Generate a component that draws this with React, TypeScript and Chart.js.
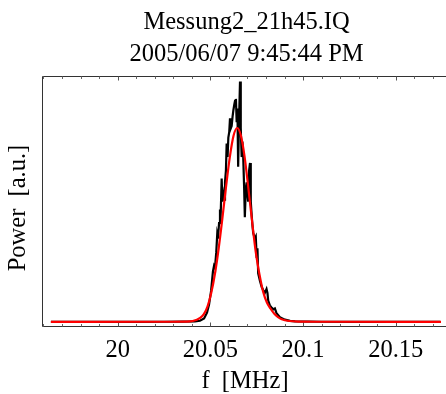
import React, { useEffect, useRef } from "react";
import { Chart, registerables } from "chart.js";

Chart.register(...registerables);

const TITLE_LINES = ["Messung2_21h45.IQ", "2005/06/07 9:45:44 PM"];
const X_LABEL = "f  [MHz]";
const Y_LABEL = "Power  [a.u.]";

const X_MIN = 19.9592;
const X_MAX = 20.1771;
const Y_MIN = -0.026;
const Y_MAX = 1.268;

const MAJOR_TICKS = [20, 20.05, 20.1, 20.15];
const MINOR_TICKS = [
  19.96, 19.97, 19.98, 19.99, 20.0, 20.01, 20.02, 20.03, 20.04, 20.05, 20.06,
  20.07, 20.08, 20.09, 20.1, 20.11, 20.12, 20.13, 20.14, 20.15, 20.16, 20.17,
];

// measured spectrum (black)
const MEASURED_F = [
  19.964, 19.99, 20.01, 20.025, 20.035, 20.0417, 20.0444, 20.0466, 20.0482,
  20.0493, 20.0504, 20.0514, 20.052, 20.0525, 20.0532, 20.0537, 20.0541,
  20.0547, 20.0552, 20.0556, 20.0561, 20.0565, 20.057, 20.0575, 20.0579,
  20.0584, 20.0588, 20.0593, 20.0597, 20.0602, 20.0606, 20.0611, 20.0615,
  20.062, 20.0624, 20.0629, 20.0633, 20.0638, 20.0642, 20.0646, 20.065,
  20.0655, 20.066, 20.0664, 20.0669, 20.0673, 20.0677, 20.0682, 20.0686,
  20.0691, 20.0696, 20.07, 20.0704, 20.0709, 20.0714, 20.0718, 20.0723,
  20.0727, 20.0731, 20.074, 20.0745, 20.075, 20.0754, 20.0758, 20.0768,
  20.0777, 20.0785, 20.0794, 20.0803, 20.0808, 20.0812, 20.0821, 20.083,
  20.084, 20.0848, 20.0857, 20.0866, 20.0875, 20.0902, 20.093, 20.0957,
  20.11, 20.13, 20.15, 20.174,
];
const MEASURED_P = [
  0, 0, 0, 0.001, 0.002, 0.003, 0.006, 0.018, 0.048,
  0.09, 0.16, 0.26, 0.29, 0.28, 0.36, 0.45, 0.43,
  0.51, 0.58, 0.56, 0.74, 0.62, 0.66, 0.63, 0.72,
  0.78, 0.92, 0.85, 0.95, 0.98, 1.05, 1.0, 1.01,
  1.06, 1.09, 1.12, 1.14, 1.15, 1.03, 1.1, 0.8,
  1.05, 1.24, 1.0, 0.85, 0.93, 0.86, 0.7, 0.54,
  0.68, 0.72, 0.66, 0.62, 0.78, 0.82, 0.62, 0.55,
  0.5, 0.46, 0.43, 0.44, 0.33, 0.38, 0.25, 0.21,
  0.18, 0.165, 0.15, 0.17, 0.15, 0.11, 0.085, 0.075,
  0.065, 0.07, 0.045, 0.035, 0.025, 0.012, 0.006, 0.003,
  0.001, 0, 0, 0,
];

// fitted curve (red)
const FIT_F = [
  19.964, 20.0245, 20.0365, 20.0405, 20.0445, 20.0465, 20.0485, 20.0505,
  20.0525, 20.0545, 20.0565, 20.0585, 20.0605, 20.0625, 20.0645, 20.0665,
  20.0685, 20.0705, 20.0725, 20.0745, 20.0765, 20.0785, 20.0805, 20.0825,
  20.0845, 20.0865, 20.0885, 20.0925, 20.0985, 20.1145, 20.1744,
];
const FIT_P = [
  0, 0.001, 0.002, 0.005, 0.021, 0.04, 0.08, 0.15,
  0.25, 0.38, 0.535, 0.7, 0.85, 0.96, 1.0, 0.96,
  0.85, 0.69, 0.52, 0.36, 0.245, 0.155, 0.1, 0.068,
  0.042, 0.025, 0.014, 0.005, 0.002, 0.001, 0,
];

const FONT = '"Liberation Serif", "Times New Roman", serif';
const FONT_SIZE = 24.5;

const framePlugin = {
  id: "mmaFrame",
  beforeDatasetsDraw(chart: any) {
    const { ctx, chartArea, scales } = chart;
    const xs = scales.x;
    const L = Math.round(chartArea.left) + 0.5;
    const T = Math.round(chartArea.top) + 0.5;
    const B = Math.round(chartArea.bottom) - 0.5;
    const R = chartArea.right + 10;
    ctx.save();
    ctx.strokeStyle = "#333";
    ctx.lineWidth = 1;
    ctx.beginPath();
    ctx.moveTo(R, T);
    ctx.lineTo(L, T);
    ctx.lineTo(L, B);
    ctx.lineTo(R, B);
    ctx.stroke();
    for (const v of MINOR_TICKS) {
      const isMajor = MAJOR_TICKS.some((m) => Math.abs(m - v) < 1e-9);
      const len = isMajor ? 4 : 2.5;
      const px = Math.round(xs.getPixelForValue(v)) + 0.5;
      ctx.strokeStyle = isMajor ? "#555" : "#666";
      ctx.beginPath();
      ctx.moveTo(px, B);
      ctx.lineTo(px, B - len);
      ctx.moveTo(px, T);
      ctx.lineTo(px, T + len);
      ctx.stroke();
    }
    ctx.restore();
  },
  afterDraw(chart: any) {
    const { ctx, chartArea } = chart;
    ctx.save();
    ctx.fillStyle = "#000";
    ctx.font = `${FONT_SIZE}px ${FONT}`;
    ctx.textAlign = "center";
    ctx.textBaseline = "alphabetic";
    const cx = chartArea.left + 204.5;
    ctx.fillText(TITLE_LINES[0], cx, 29);
    ctx.fillText(TITLE_LINES[1], cx, 61);
    ctx.fillText(X_LABEL, chartArea.left + 203, 388);
    ctx.translate(25, 208);
    ctx.rotate(-Math.PI / 2);
    ctx.fillText(Y_LABEL, 0, 0);
    ctx.restore();
  },
};

export default function App() {
  const canvasRef = useRef<HTMLCanvasElement | null>(null);

  useEffect(() => {
    const canvas = canvasRef.current;
    if (!canvas) return;
    const chart = new Chart(canvas, {
      type: "line",
      data: {
        datasets: [
          {
            label: "Fit",
            data: FIT_F.map((f, i) => ({ x: f, y: FIT_P[i] })),
            borderColor: "rgb(255,0,0)",
            borderWidth: 2.2,
            pointRadius: 0,
            fill: false,
            cubicInterpolationMode: "monotone",
          },
          {
            label: "Messung",
            data: MEASURED_F.map((f, i) => ({ x: f, y: MEASURED_P[i] })),
            borderColor: "#000",
            borderWidth: 2.2,
            pointRadius: 0,
            fill: false,
            tension: 0,
          },
        ],
      },
      options: {
        responsive: false,
        animation: false,
        events: [],
        layout: { padding: { top: 76, left: 0, right: 0, bottom: 0 } },
        plugins: {
          legend: { display: false },
          title: { display: false },
          tooltip: { enabled: false },
        },
        scales: {
          x: {
            type: "linear",
            min: X_MIN,
            max: X_MAX,
            grid: { display: false, drawTicks: false },
            border: { display: false },
            afterBuildTicks: (s: any) => {
              s.ticks = MAJOR_TICKS.map((v) => ({ value: v }));
            },
            afterFit: (s: any) => {
              s.height = 67;
            },
            ticks: {
              padding: 9,
              color: "#000",
              maxRotation: 0,
              autoSkip: false,
              font: { family: FONT, size: FONT_SIZE },
              callback: (v: any) => String(v),
            },
          },
          y: {
            type: "linear",
            min: Y_MIN,
            max: Y_MAX,
            grid: { display: false, drawTicks: false },
            border: { display: false },
            ticks: { display: false },
            afterFit: (s: any) => {
              s.width = 42;
            },
          },
        },
      },
      plugins: [framePlugin],
    });
    return () => chart.destroy();
  }, []);

  return (
    <div style={{ position: "absolute", left: 0, top: 0, width: 446, height: 394, background: "#fff" }}>
      <canvas ref={canvasRef} width={446} height={394} style={{ display: "block" }} />
    </div>
  );
}
